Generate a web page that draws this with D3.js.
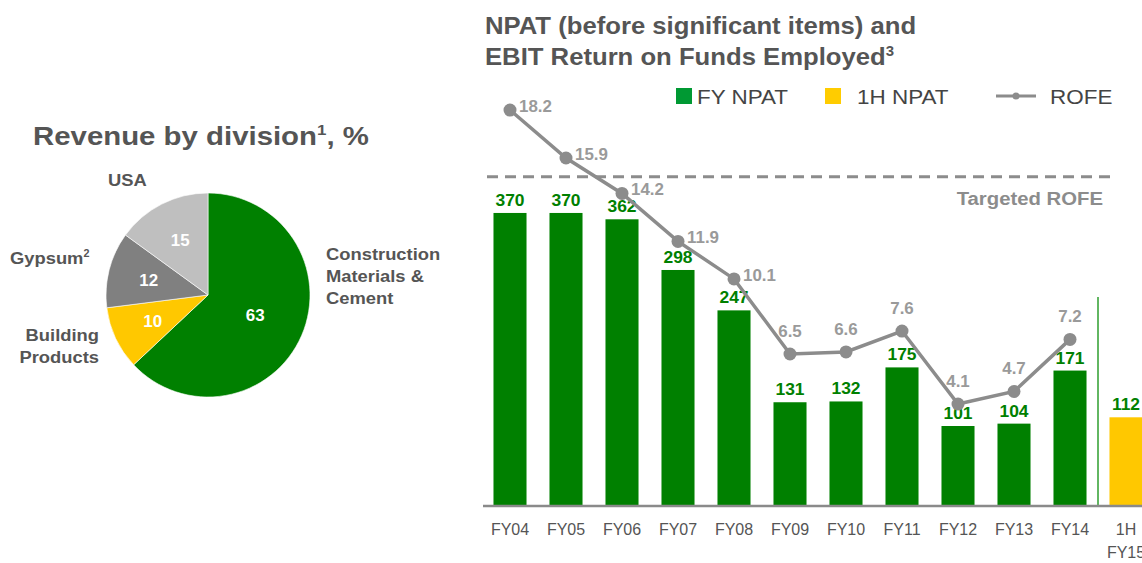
<!DOCTYPE html>
<html>
<head>
<meta charset="utf-8">
<script src="https://cdn.jsdelivr.net/npm/d3@7/dist/d3.min.js"></script>
<style>
  html, body { margin: 0; padding: 0; background: #fff; }
  svg { display: block; font-family: "Liberation Sans", Arial, sans-serif; }
</style>
</head>
<body>
<svg id="chart" width="1142" height="563"></svg>
<script>
// Revenue split by division (%), clockwise from 12 o'clock
const divisions = ["Construction Materials & Cement", "Building Products", "Gypsum", "USA"];
const divisionShares = [63, 10, 12, 15];
const divisionColors = ["#008000", "#ffc800", "#808080", "#bfbfbf"];

// NPAT before significant items ($m) and EBIT ROFE (%)
const periods = ["FY04", "FY05", "FY06", "FY07", "FY08", "FY09", "FY10", "FY11", "FY12", "FY13", "FY14", "1H FY15"];
const npat = [370, 370, 362, 298, 247, 131, 132, 175, 101, 104, 171, 112];
const periodType = ["FY", "FY", "FY", "FY", "FY", "FY", "FY", "FY", "FY", "FY", "FY", "1H"];
const rofePeriods = ["FY04", "FY05", "FY06", "FY07", "FY08", "FY09", "FY10", "FY11", "FY12", "FY13", "FY14"];
const rofe = [18.2, 15.9, 14.2, 11.9, 10.1, 6.5, 6.6, 7.6, 4.1, 4.7, 7.2];
const targetRofe = 15;

const svg = d3.select("#chart");
const textGrey = "#555555";
const lineGrey = "#8c8c8c";
const green = "#008000";
const yellow = "#ffc800";

// Widen text horizontally around its own anchor point
function widen(sel, k) {
  sel.attr("transform", function() {
    const x = +this.getAttribute("x") || 0, y = +this.getAttribute("y") || 0;
    return `translate(${x},${y}) scale(${k},1) translate(${-x},${-y})`;
  });
  return sel;
}

// ---------- Pie: revenue by division ----------
const pieTitle = svg.append("text")
  .attr("x", 33).attr("y", 145)
  .attr("font-size", 26).attr("font-weight", "bold").attr("fill", textGrey);
pieTitle.append("tspan").text("Revenue by division");
pieTitle.append("tspan").text("1").attr("font-size", 15).attr("dy", -10);
pieTitle.append("tspan").text(", %").attr("dy", 10);
widen(pieTitle, 1.13);

const R = 102;
const pieG = svg.append("g").attr("transform", "translate(208,295)");
const pieData = d3.pie().sort(null).value(d => d)(divisionShares);
const arc = d3.arc().innerRadius(0).outerRadius(R);
const labelArc = d3.arc().innerRadius(R * 1.2).outerRadius(0);

pieG.selectAll("path.slice").data(pieData).join("path")
  .attr("class", "slice")
  .attr("d", arc)
  .attr("fill", (d, i) => divisionColors[i])
  .attr("stroke", "#ffffff").attr("stroke-width", 0.6);

pieG.selectAll("text.share").data(pieData).join("text")
  .attr("class", "share")
  .attr("transform", (d, i) => {
    const c = labelArc.centroid(d);
    const k = i === 0 ? 0.84 : 1;
    return `translate(${c[0] * k},${c[1] * k}) scale(1.06,1)`;
  })
  .attr("text-anchor", "middle").attr("dy", "0.36em")
  .attr("font-size", 16).attr("font-weight", "bold").attr("fill", "#ffffff")
  .text(d => d.value);

// Outer division names
function multiLine(x, y, lines, anchor, lh) {
  const t = svg.append("text")
    .attr("x", x).attr("y", y).attr("text-anchor", anchor)
    .attr("font-size", 17).attr("font-weight", "bold").attr("fill", textGrey);
  lines.forEach((l, i) => t.append("tspan").attr("x", x).attr("dy", i === 0 ? 0 : lh).text(l));
  return widen(t, 1.08);
}
multiLine(326, 260, ["Construction", "Materials &", "Cement"], "start", 22);
multiLine(99, 341, ["Building", "Products"], "end", 22);
multiLine(108, 186, ["USA"], "start", 22);
const gyp = svg.append("text").attr("x", 10).attr("y", 264)
  .attr("font-size", 17).attr("font-weight", "bold").attr("fill", textGrey);
gyp.append("tspan").text("Gypsum");
gyp.append("tspan").text("2").attr("font-size", 10).attr("dy", -7);
widen(gyp, 1.08);

// ---------- Bars + ROFE line ----------
const title = svg.append("text").attr("x", 485).attr("y", 34)
  .attr("font-size", 24).attr("font-weight", "bold").attr("fill", textGrey);
title.append("tspan").attr("x", 485).attr("y", 34).text("NPAT (before significant items) and");
title.append("tspan").attr("x", 485).attr("y", 65).text("EBIT Return on Funds Employed");
title.append("tspan").text("3").attr("font-size", 14).attr("dy", -9);
widen(title, 1.07);

const x = d3.scaleBand().domain(periods).range([482, 1154]).paddingInner(0.41).paddingOuter(0.205);
const yBar = d3.scaleLinear().domain([0, 400]).range([506, 189.2]);
const yRofe = d3.scaleLinear().domain([0, 20]).range([489.5, 72.5]);

// Target ROFE reference line
svg.append("line")
  .attr("x1", 487).attr("x2", 1116)
  .attr("y1", yRofe(targetRofe)).attr("y2", yRofe(targetRofe))
  .attr("stroke", lineGrey).attr("stroke-width", 3).attr("stroke-dasharray", "11,7");
widen(svg.append("text").attr("x", 1103).attr("y", yRofe(targetRofe) + 28)
  .attr("text-anchor", "end").attr("font-size", 19).attr("font-weight", "bold").attr("fill", lineGrey)
  .text("Targeted ROFE"), 1.07);

// Bars
svg.selectAll("rect.bar").data(npat).join("rect")
  .attr("class", "bar")
  .attr("x", (d, i) => x(periods[i]))
  .attr("width", x.bandwidth())
  .attr("y", d => yBar(d))
  .attr("height", d => yBar(0) - yBar(d))
  .attr("fill", (d, i) => periodType[i] === "FY" ? green : yellow);

widen(svg.selectAll("text.barval").data(npat).join("text")
  .attr("class", "barval")
  .attr("x", (d, i) => x(periods[i]) + x.bandwidth() / 2)
  .attr("y", d => yBar(d) - 7)
  .attr("text-anchor", "middle")
  .attr("font-size", 16).attr("font-weight", "bold").attr("fill", green)
  .text(d => d), 1.09);

// Separator between full-year and half-year results
svg.append("line")
  .attr("x1", 1098).attr("x2", 1098).attr("y1", 297).attr("y2", 506)
  .attr("stroke", "#2e9e2e").attr("stroke-width", 1.5);

// X axis
const xAxis = svg.append("g").attr("transform", "translate(0,506)")
  .call(d3.axisBottom(x).tickSize(0).tickPadding(0).tickFormat(""));
xAxis.select(".domain").attr("stroke", "#8a8a8a").attr("stroke-width", 2.5)
  .attr("d", "M483,0H1142");
xAxis.selectAll(".tick text").remove();
xAxis.selectAll(".tick").each(function(p) {
  const t = d3.select(this).append("text")
    .attr("fill", textGrey).attr("font-size", 16).attr("text-anchor", "middle")
    .attr("y", 29);
  p.split(" ").forEach((w, i) => t.append("tspan").attr("x", 0).attr("dy", i === 0 ? 0 : 23).text(w));
});

// ROFE line
const rofeLine = d3.line().x((d, i) => x(rofePeriods[i]) + x.bandwidth() / 2).y(d => yRofe(d));
svg.append("path").datum(rofe)
  .attr("d", rofeLine).attr("fill", "none")
  .attr("stroke", lineGrey).attr("stroke-width", 3.5);
svg.selectAll("circle.rofe").data(rofe).join("circle")
  .attr("class", "rofe")
  .attr("cx", (d, i) => x(rofePeriods[i]) + x.bandwidth() / 2)
  .attr("cy", d => yRofe(d)).attr("r", 6.5)
  .attr("fill", lineGrey);
widen(svg.selectAll("text.rofeval").data(rofe).join("text")
  .attr("class", "rofeval")
  .attr("x", (d, i) => x(rofePeriods[i]) + x.bandwidth() / 2 + (i < 5 ? 9 : 0))
  .attr("y", (d, i) => yRofe(d) + (i < 5 ? 2 : -17))
  .attr("text-anchor", (d, i) => i < 5 ? "start" : "middle")
  .attr("font-size", 16).attr("font-weight", "bold").attr("fill", "#9a9a9a")
  .text(d => d.toFixed(1)), 1.06);

// Legend
const legend = svg.append("g").attr("font-size", 21).attr("fill", "#444");
legend.append("rect").attr("x", 676).attr("y", 88).attr("width", 16).attr("height", 16).attr("fill", "#009933");
widen(legend.append("text").attr("x", 697).attr("y", 104).text("FY NPAT"), 1.07);
legend.append("rect").attr("x", 825).attr("y", 88).attr("width", 16).attr("height", 16).attr("fill", "#ffcc00");
widen(legend.append("text").attr("x", 857).attr("y", 104).text("1H NPAT"), 1.07);
legend.append("line").attr("x1", 996).attr("x2", 1036).attr("y1", 96).attr("y2", 96)
  .attr("stroke", lineGrey).attr("stroke-width", 3);
legend.append("circle").attr("cx", 1016).attr("cy", 96).attr("r", 3.5).attr("fill", lineGrey);
widen(legend.append("text").attr("x", 1050).attr("y", 104).text("ROFE"), 1.07);
</script>
</body>
</html>
